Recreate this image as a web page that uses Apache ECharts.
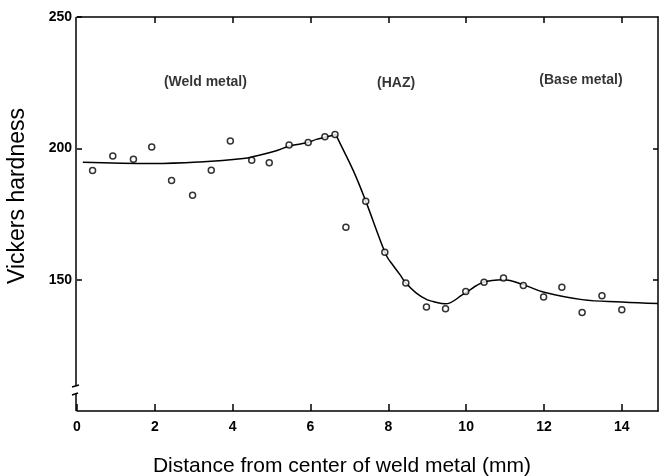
<!DOCTYPE html>
<html><head><meta charset="utf-8">
<script src="https://cdn.jsdelivr.net/npm/echarts@6/dist/echarts.min.js"></script>
<style>html,body{margin:0;padding:0;background:#fff}#c{width:659px;height:476px}</style>
</head><body><div id="c"></div>
<script>
// ---- data ----
const xTickValues = [0, 2, 4, 6, 8, 10, 12, 14];
const yTickValues = [150, 200, 250];
const measuredX = [0.4, 0.92, 1.45, 1.92, 2.43, 2.97, 3.45, 3.94, 4.49, 4.94, 5.45, 5.94, 6.37, 6.63,
  6.91, 7.42, 7.91, 8.45, 8.98, 9.47, 9.99, 10.46, 10.96, 11.47, 11.99, 12.46, 12.98, 13.49, 14.0];
const measuredHV = [191.6, 197.1, 195.8, 200.5, 187.8, 182.1, 191.7, 202.8, 195.5, 194.5, 201.3, 202.2, 204.4, 205.3,
  170.0, 179.9, 160.4, 148.7, 139.6, 138.9, 145.5, 149.0, 150.6, 147.8, 143.4, 147.1, 137.5, 143.9, 138.5];
const fitWeldX = [0.15, 1.95, 3.15, 4.27, 4.6, 5.1, 5.47, 5.93, 6.15, 6.39, 6.65];
const fitWeldHV = [194.7, 194.2, 194.8, 196.1, 197.1, 199.0, 200.9, 202.2, 203.4, 204.3, 205.3];
const fitHazX = [6.65, 6.71, 7.1, 7.42, 7.77, 7.96, 8.11, 8.3, 8.45, 8.72, 8.99, 9.15, 9.46, 9.93, 10.44, 10.96, 11.47, 11.98, 12.98, 14.0, 14.93];
const fitHazHV = [205.3, 203.4, 191.5, 179.9, 165.9, 158.9, 155.7, 151.9, 148.7, 144.9, 142.4, 141.7, 140.8, 144.5, 149.0, 150.0, 148.1, 145.3, 142.4, 141.5, 140.9];
const regionNames = ['(Weld metal)', '(HAZ)', '(Base metal)'];
const regionX = [3.3, 8.2, 12.95];
const regionHV = [225.3, 224.9, 226.0];
const xMin = 0, xMax = 14.93, yMin = 100, yMax = 250;
const breakTop = 109.5, breakBottom = 106.5;

const zip = (a, b) => a.map((v, i) => [v, b[i]]);
const FONT = '"Liberation Sans", Arial, sans-serif';

const chart = echarts.init(document.getElementById('c'), null, {renderer: 'canvas'});
const lineStyle = {color: '#000', width: 1.5};
const baseX = {type: 'value', min: xMin, max: xMax, interval: 2, splitLine: {show: false}};
const baseY = {type: 'value', min: yMin, max: yMax, interval: 50, splitLine: {show: false}};

chart.setOption({
  animation: false,
  backgroundColor: '#fff',
  grid: {left: 77, right: 1, top: 17, bottom: 65},
  xAxis: [
    Object.assign({}, baseX, {
      position: 'bottom',
      axisLine: {show: true, lineStyle},
      axisTick: {show: true, inside: true, length: 7, lineStyle,
        customValues: xTickValues},
      axisLabel: {show: true, color: '#000', fontFamily: FONT, fontWeight: 'bold', fontSize: 14, margin: 9,
        customValues: xTickValues,
        formatter: v => (xTickValues.indexOf(v) >= 0 ? String(v) : '')}
    }),
    Object.assign({}, baseX, {
      position: 'top',
      axisLine: {show: true, onZero: false, lineStyle},
      axisTick: {show: true, inside: true, length: 6, lineStyle, customValues: xTickValues.slice(1)},
      axisLabel: {show: false}
    })
  ],
  yAxis: [
    Object.assign({}, baseY, {
      position: 'left',
      axisLine: {show: false},
      axisTick: {show: true, inside: true, length: 5, lineStyle, customValues: yTickValues},
      axisLabel: {show: true, color: '#000', fontFamily: FONT, fontWeight: 'bold', fontSize: 14, margin: 5,
        customValues: yTickValues,
        formatter: v => (yTickValues.indexOf(v) >= 0 ? String(v) : '')}
    }),
    Object.assign({}, baseY, {
      position: 'right',
      axisLine: {show: true, onZero: false, lineStyle},
      axisTick: {show: true, inside: true, length: 5, lineStyle, customValues: yTickValues.slice(0, 2)},
      axisLabel: {show: false}
    })
  ],
  series: [
    {type: 'line', name: 'fit weld', data: zip(fitWeldX, fitWeldHV), smooth: 0.4, showSymbol: false,
      symbol: 'none', lineStyle: {color: '#000', width: 1.5}, z: 2},
    {type: 'line', name: 'fit haz', data: zip(fitHazX, fitHazHV), smooth: 0.4, showSymbol: false,
      symbol: 'none', lineStyle: {color: '#000', width: 1.5}, z: 2},
    {type: 'scatter', name: 'measured', data: zip(measuredX, measuredHV), symbol: 'circle', symbolSize: 6,
      itemStyle: {color: '#fff', borderColor: '#000', borderWidth: 1.5}, z: 3},
    {type: 'scatter', name: 'regions', data: regionX.map((x, i) => [x, regionHV[i], regionNames[i]]),
      symbolSize: 0, silent: true,
      label: {show: true, position: 'inside', formatter: p => p.value[2], color: '#000',
        fontFamily: FONT, fontWeight: 'bold', fontSize: 14}}
  ]
});

function drawFrame() {
  const p = v => chart.convertToPixel({gridIndex: 0}, [xMin, v]);
  const top = p(yMax), b1 = p(breakTop), b2 = p(breakBottom), bot = p(yMin);
  const ax = top[0] - 1;
  chart.setOption({
    graphic: [
      {type: 'line', shape: {x1: ax, y1: top[1], x2: ax, y2: b1[1]}, style: {stroke: '#000', lineWidth: 1.5}},
      {type: 'line', shape: {x1: ax - 4, y1: b1[1] + 1, x2: ax + 3, y2: b1[1] - 1}, style: {stroke: '#000', lineWidth: 1.5}},
      {type: 'line', shape: {x1: ax - 4, y1: b2[1] + 1, x2: ax + 2, y2: b2[1] - 1}, style: {stroke: '#000', lineWidth: 1.5}},
      {type: 'line', shape: {x1: ax, y1: b2[1], x2: ax, y2: bot[1]}, style: {stroke: '#000', lineWidth: 1.5}},
      {type: 'text', x: 342, y: 466, style: {text: 'Distance from center of weld metal (mm)',
        font: '21px ' + FONT, fill: '#000', align: 'center', verticalAlign: 'middle',
        textAlign: 'center', textVerticalAlign: 'middle'}},
      {type: 'text', x: 18, y: 196, rotation: Math.PI / 2, style: {text: 'Vickers hardness',
        font: '23px ' + FONT, fill: '#000', align: 'center', verticalAlign: 'middle',
        textAlign: 'center', textVerticalAlign: 'middle'}}
    ]
  });
}
drawFrame();
</script>
</body></html>
